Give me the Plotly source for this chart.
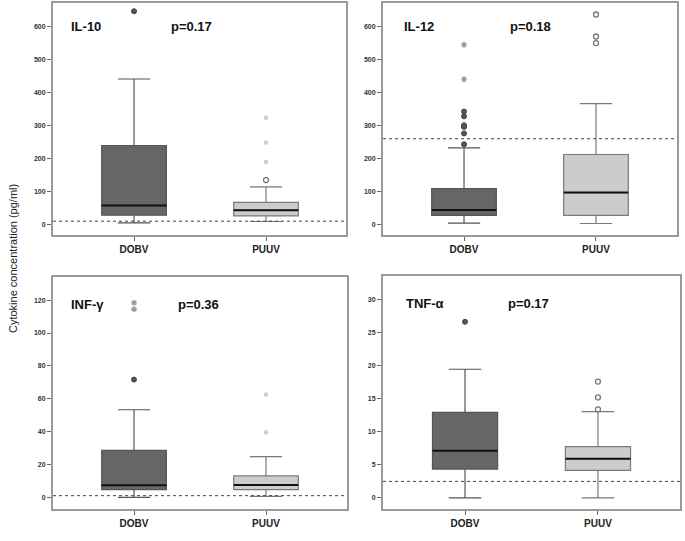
import plotly.graph_objects as go

# ---------------- data ----------------
groups = ["DOBV", "PUUV"]
panels = ["IL-10", "IL-12", "INF-γ", "TNF-α"]
p_values = ["p=0.17", "p=0.18", "p=0.36", "p=0.17"]

# box statistics per panel: [DOBV, PUUV]
q1 = [[27, 25], [27, 27], [4.9, 4.9], [4.35, 4.15]]
median = [[57, 42], [43, 96], [7.5, 7.7], [7.13, 5.92]]
q3 = [[239, 66], [108, 212], [28.7, 13.2], [12.95, 7.74]]
lower = [[4, 8], [3, 2], [0.2, 0.8], [0.0, 0.0]]
upper = [[441, 113], [232, 367], [53.4, 24.9], [19.47, 13.05]]

# outliers (circles) and extremes (asterisks)
out_dobv = [[647], [243, 276, 296, 301, 328, 343], [71.7], [26.66]]
ext_dobv = [[], [441, 546], [114.4, 118.4], []]
out_puuv = [[134], [551, 571, 638], [], [13.4, 15.2, 17.6]]
ext_puuv = [[189, 248, 323], [], [39.7, 62.6], []]

# detection limit lines
limits = [9, 260, 1.2, 2.48]

# y axis setup
y_ranges = [[-33, 672], [-33, 673], [-6.9, 134.2], [-1.7, 33.6]]
y_ticks = [[0, 100, 200, 300, 400, 500, 600],
           [0, 100, 200, 300, 400, 500, 600],
           [0, 20, 40, 60, 80, 100, 120],
           [0, 5, 10, 15, 20, 25, 30]]

# ---------------- layout geometry ----------------
W, H = 685, 541
x_domains = [[53 / W, 346 / W], [383 / W, 677 / W], [53 / W, 346.5 / W], [383 / W, 680 / W]]
y_domains = [[(H - 235) / H, (H - 3) / H], [(H - 235) / H, (H - 3) / H],
             [(H - 509) / H, (H - 276.7) / H], [(H - 509) / H, (H - 276) / H]]
x_ranges = [[-0.614, 1.606], [-0.614, 1.614], [-0.614, 1.61], [-0.617, 1.617]]

fill_colors = ["#666666", "#cccccc"]
line_colors = ["#555555", "#7a7a7a"]

fig = go.Figure()

for i in range(4):
    xa = "x" if i == 0 else f"x{i + 1}"
    ya = "y" if i == 0 else f"y{i + 1}"
    for g in range(2):
        fig.add_trace(go.Box(
            x=[g], q1=[q1[i][g]], median=[median[i][g]], q3=[q3[i][g]],
            lowerfence=[lower[i][g]], upperfence=[upper[i][g]],
            fillcolor=fill_colors[g], line=dict(color=line_colors[g], width=1.2),
            width=0.49, whiskerwidth=0.5, boxpoints=False,
            xaxis=xa, yaxis=ya, showlegend=False, hoverinfo="skip"))
        # median line (degenerate box drawn in black)
        fig.add_trace(go.Box(
            x=[g], q1=[median[i][g]], median=[median[i][g]], q3=[median[i][g]],
            lowerfence=[median[i][g]], upperfence=[median[i][g]],
            fillcolor="rgba(0,0,0,0)", line=dict(color="#111111", width=2),
            width=0.49, whiskerwidth=0, boxpoints=False,
            xaxis=xa, yaxis=ya, showlegend=False, hoverinfo="skip"))
    # outliers
    if out_dobv[i]:
        fig.add_trace(go.Scatter(
            x=[0] * len(out_dobv[i]), y=out_dobv[i], mode="markers",
            marker=dict(symbol="circle", size=5, color="#555555",
                        line=dict(color="#444444", width=1)),
            xaxis=xa, yaxis=ya, showlegend=False, hoverinfo="skip"))
    if ext_dobv[i]:
        fig.add_trace(go.Scatter(
            x=[0] * len(ext_dobv[i]), y=ext_dobv[i], mode="markers",
            marker=dict(symbol="asterisk-open", size=5, color="#999999",
                        line=dict(color="#999999", width=1.2)),
            xaxis=xa, yaxis=ya, showlegend=False, hoverinfo="skip"))
    if out_puuv[i]:
        fig.add_trace(go.Scatter(
            x=[1] * len(out_puuv[i]), y=out_puuv[i], mode="markers",
            marker=dict(symbol="circle-open", size=5, color="#777777",
                        line=dict(color="#777777", width=1.3)),
            xaxis=xa, yaxis=ya, showlegend=False, hoverinfo="skip"))
    if ext_puuv[i]:
        fig.add_trace(go.Scatter(
            x=[1] * len(ext_puuv[i]), y=ext_puuv[i], mode="markers",
            marker=dict(symbol="asterisk-open", size=4, color="#cccccc",
                        line=dict(color="#cccccc", width=1.2)),
            xaxis=xa, yaxis=ya, showlegend=False, hoverinfo="skip"))

    # detection limit
    fig.add_shape(type="line", xref=f"{xa} domain", yref=ya,
                  x0=0, x1=1, y0=limits[i], y1=limits[i],
                  line=dict(color="#444444", width=1, dash="dot"))

    # panel label and p value
    label_x = [0.054, 0.066, 0.054, 0.07][i]
    p_x = [0.395, 0.425, 0.42, 0.415][i]
    label_y = [600, 600, 117.5, 29.5][i]
    fig.add_annotation(text=panels[i], xref=f"{xa} domain", yref=ya,
                       x=label_x, y=label_y, xanchor="left", yanchor="middle",
                       showarrow=False,
                       font=dict(family="Arial", size=13, color="#111111", weight="bold"))
    fig.add_annotation(text=p_values[i], xref=f"{xa} domain", yref=ya,
                       x=p_x, y=label_y, xanchor="left", yanchor="middle",
                       showarrow=False,
                       font=dict(family="Arial", size=13, color="#111111", weight="bold"))

    axis_common = dict(showline=True, mirror=True, linecolor="#9a9a9a", linewidth=2,
                       showgrid=False, zeroline=False, ticks="outside",
                       tickcolor="#666666", ticklen=4, tickwidth=1)
    fig.layout[f"xaxis{'' if i == 0 else i + 1}"] = dict(
        domain=x_domains[i], range=x_ranges[i], anchor=ya,
        tickmode="array", tickvals=[0, 1], ticktext=groups,
        tickfont=dict(family="Arial", size=10, color="#222222", weight="bold"),
        **axis_common)
    fig.layout[f"yaxis{'' if i == 0 else i + 1}"] = dict(
        domain=y_domains[i], range=y_ranges[i], anchor=xa,
        tickmode="array", tickvals=y_ticks[i],
        tickfont=dict(family="Arial", size=7, color="#333333", weight="bold"),
        **axis_common)

fig.add_annotation(text="Cytokine concentration (pg/ml)", xref="paper", yref="paper",
                   x=13 / W, y=(H - 259) / H, textangle=-90, showarrow=False,
                   xanchor="center", yanchor="middle",
                   font=dict(family="Arial", size=11, color="#222222"))

fig.update_layout(width=W, height=H, margin=dict(l=0, r=0, t=0, b=0),
                  paper_bgcolor="white", plot_bgcolor="white",
                  boxmode="overlay", showlegend=False)

fig.write_html("out.html", config={"displayModeBar": False},
               post_script="document.body.style.margin='0';document.body.style.overflow='hidden';")
